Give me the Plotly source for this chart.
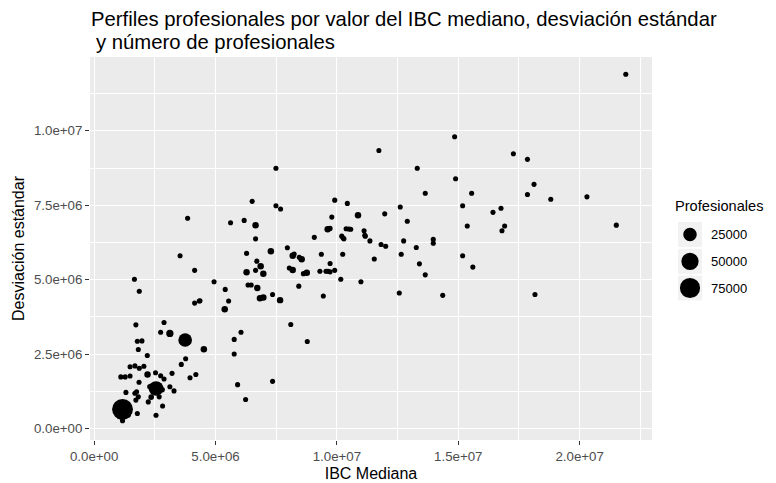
import numpy as np
import plotly.graph_objects as go

# ---- data (values in pesos) ----
ibc_mediana = [21.90, 17.27, 17.85, 18.12, 15.55, 17.85, 18.81, 20.30, 15.18, 16.76,
               16.43, 15.37, 16.91, 16.80, 21.51, 15.18, 15.60, 18.16, 14.85, 11.73,
               13.31, 14.89, 13.64, 9.91, 10.43, 12.61, 9.79, 10.87, 11.97, 12.90,
               9.72, 10.38, 10.49, 10.57, 11.12, 11.15, 11.17, 10.20, 10.26, 10.29,
               11.36, 11.82, 12.01, 12.75, 13.27, 13.97, 13.97, 10.24, 12.65, 11.54,
               13.40, 13.64, 9.72, 9.91, 9.72, 10.16, 10.99, 12.57, 14.36, 7.49,
               6.51, 7.49, 7.68, 5.62, 6.18, 6.65, 6.65, 9.62, 9.66, 9.07,
               7.96, 7.28, 6.28, 8.18, 8.24, 8.45, 8.55, 9.36, 6.70, 6.86,
               6.65, 6.28, 6.97, 8.04, 8.18, 8.62, 8.76, 9.30, 9.55, 9.63,
               6.34, 6.47, 6.72, 8.43, 4.94, 5.40, 4.36, 5.54, 6.83, 6.97,
               7.35, 7.66, 9.44, 5.38, 8.10, 6.05, 5.77, 4.52, 5.77, 8.78,
               7.35, 5.91, 6.24, 1.66, 1.86, 4.14, 4.14, 4.33, 1.72, 2.88,
               2.74, 3.12, 3.75, 1.78, 1.97, 1.82, 2.19, 3.77, 3.59, 4.19,
               3.95, 3.21, 1.48, 1.68, 1.86, 2.05, 2.20, 2.53, 2.74, 2.88,
               1.10, 1.28, 1.48, 1.85, 2.55, 2.30, 2.35, 2.80, 3.12, 3.29,
               1.31, 1.68, 1.75, 1.82, 1.72, 2.23, 2.68, 2.82, 2.55, 1.78,
               1.17, 1.17, 3.85, 3.54, 0.98, 1.40, 1.05]
desviacion = [11.90, 9.23, 9.04, 8.20, 7.90, 7.86, 7.70, 7.78, 7.48, 7.40,
              7.26, 6.80, 6.80, 6.64, 6.83, 5.80, 5.42, 4.50, 9.80, 9.34,
              8.74, 8.39, 7.90, 7.67, 7.56, 7.44, 7.10, 7.16, 7.21, 6.96,
              6.72, 6.71, 6.70, 6.69, 6.64, 6.49, 6.46, 6.46, 6.40, 6.37,
              6.30, 6.18, 6.12, 6.30, 6.08, 6.35, 6.22, 5.85, 5.85, 5.69,
              5.53, 5.16, 5.54, 5.31, 5.26, 5.01, 4.93, 4.55, 4.47, 8.74,
              7.63, 7.48, 7.37, 6.91, 6.99, 6.83, 6.37, 6.69, 6.71, 6.42,
              6.07, 5.95, 5.88, 5.80, 5.86, 5.75, 5.68, 5.85, 5.62, 5.45,
              5.31, 5.25, 5.20, 5.39, 5.32, 5.20, 5.23, 5.28, 5.28, 5.28,
              4.82, 4.82, 4.72, 4.78, 4.93, 4.67, 4.29, 4.28, 4.37, 4.40,
              4.50, 4.31, 4.45, 4.00, 3.49, 3.23, 2.99, 2.66, 2.50, 2.92,
              1.58, 1.47, 0.97, 5.01, 4.61, 5.31, 4.21, 4.28, 3.48, 3.56,
              3.23, 3.19, 2.97, 2.93, 2.94, 2.65, 2.45, 2.34, 2.15, 1.81,
              1.70, 1.85, 2.07, 2.10, 2.02, 2.09, 1.81, 1.87, 1.77, 1.66,
              1.73, 1.73, 1.76, 1.55, 1.34, 1.40, 1.05, 1.30, 1.40, 1.26,
              1.21, 1.18, 1.23, 1.06, 0.95, 0.89, 1.06, 0.75, 0.44, 0.50,
              0.64, 0.26, 7.06, 5.80, 0.72, 0.45, 0.40]
profesionales = [150, 150, 150, 150, 150, 150, 150, 150, 150, 150,
                 150, 150, 150, 150, 150, 150, 150, 150, 150, 150,
                 150, 150, 150, 150, 150, 150, 150, 1300, 150, 150,
                 150, 150, 150, 150, 150, 150, 150, 150, 150, 150,
                 150, 150, 150, 150, 150, 150, 150, 150, 150, 150,
                 150, 150, 150, 150, 150, 150, 150, 150, 150, 150,
                 150, 150, 150, 150, 150, 1300, 150, 1300, 150, 150,
                 150, 1300, 150, 1300, 150, 150, 1300, 150, 150, 1300,
                 150, 1300, 1300, 150, 1300, 150, 1300, 150, 150, 150,
                 150, 150, 1300, 150, 150, 150, 150, 150, 1300, 1300,
                 150, 1300, 150, 1300, 150, 150, 150, 1300, 150, 150,
                 150, 150, 150, 150, 150, 150, 150, 150, 150, 150,
                 150, 2500, 26000, 150, 150, 150, 150, 150, 150, 150,
                 150, 150, 150, 150, 150, 150, 1300, 150, 150, 150,
                 150, 150, 150, 150, 32000, 400, 400, 400, 150, 150,
                 150, 150, 150, 150, 150, 150, 150, 150, 150, 150,
                 82000, 150, 150, 150, 400, 400, 400]
ibc_mediana = [v * 1e6 for v in ibc_mediana]
desviacion = [v * 1e6 for v in desviacion]

x_tickvals = [0, 5e6, 10e6, 15e6, 20e6]
x_ticktext = ["0.0e+00", "5.0e+06", "1.0e+07", "1.5e+07", "2.0e+07"]
y_tickvals = [0, 2.5e6, 5e6, 7.5e6, 10e6]
y_ticktext = ["0.0e+00", "2.5e+06", "5.0e+06", "7.5e+06", "1.0e+07"]
legend_values = [25000, 50000, 75000]
legend_labels = ["25000", "50000", "75000"]
title_lines = ["Perfiles profesionales por valor del IBC mediano, desviación estándar",
               "y número de profesionales"]

SIZE_MAX = 82000


def dot_size(v):
    return 4.4 + 16.5 * np.sqrt(v / SIZE_MAX)


FONT = "Liberation Sans, Arial, sans-serif"
OFF = 8  # page body margin shifts the figure by 8px
W, H = 776, 483 - OFF
L, R, T, B = 90 - OFF, 124 + OFF, 57 - OFF, 43
PW, PH = W - L - R, H - T - B


def px(xp):
    # reference-screen pixel -> paper coordinate
    return (xp - OFF - L) / PW


def py(yp):
    return (H - B - (yp - OFF)) / PH


fig = go.Figure()
fig.add_trace(go.Scatter(
    x=ibc_mediana, y=desviacion, mode="markers",
    marker=dict(size=[dot_size(v) for v in profesionales], color="black",
                opacity=1, line=dict(width=0)),
    showlegend=False, hoverinfo="skip"))

axis_common = dict(showline=False, zeroline=False, gridcolor="white", gridwidth=1.3,
                   ticks="outside", ticklen=4, tickwidth=1, tickcolor="#333333",
                   tickfont=dict(family=FONT, size=13.3, color="#4D4D4D"),
                   tickmode="array")
fig.update_xaxes(**axis_common, range=[-0.17e6, 22.98e6],
                 tickvals=x_tickvals, ticktext=x_ticktext,
                 minor=dict(tick0=0, dtick=2.5e6, showgrid=True, gridcolor="white",
                            gridwidth=0.7, ticks=""),
                 title=dict(text="IBC Mediana", font=dict(family=FONT, size=16, color="black"),
                            standoff=4))
fig.update_yaxes(**axis_common, range=[-0.39e6, 12.48e6],
                 tickvals=y_tickvals, ticktext=y_ticktext,
                 minor=dict(tick0=0, dtick=1.25e6, showgrid=True, gridcolor="white",
                            gridwidth=0.7, ticks=""),
                 title=dict(text="Desviación estándar", font=dict(family=FONT, size=16, color="black"),
                            standoff=5))

shapes = []
annotations = []
# title (two lines)
annotations.append(dict(text=title_lines[0], x=px(89), y=py(19), xref="paper", yref="paper",
                        xanchor="left", yanchor="middle", showarrow=False,
                        font=dict(family=FONT, size=20.3, color="black")))
annotations.append(dict(text=title_lines[1], x=px(94), y=py(42), xref="paper", yref="paper",
                        xanchor="left", yanchor="middle", showarrow=False,
                        font=dict(family=FONT, size=20.3, color="black")))
# manual size legend
annotations.append(dict(text="Profesionales", x=px(673), y=py(206), xref="paper", yref="paper",
                        xanchor="left", yanchor="middle", showarrow=False,
                        font=dict(family=FONT, size=14.6, color="black")))
row_centers = [234.5, 261.3, 288.0]
row_h = 26.0
for val, lab, cy in zip(legend_values, legend_labels, row_centers):
    shapes.append(dict(type="rect", xref="paper", yref="paper",
                       x0=px(678), x1=px(702), y0=py(cy + row_h / 2 - 0.5), y1=py(cy - row_h / 2 + 0.5),
                       fillcolor="#F2F2F2", line=dict(width=0), layer="below"))
    d = dot_size(val)
    shapes.append(dict(type="circle", xref="paper", yref="paper",
                       xsizemode="pixel", ysizemode="pixel",
                       xanchor=px(690), yanchor=py(cy),
                       x0=-d / 2, x1=d / 2, y0=-d / 2, y1=d / 2,
                       fillcolor="black", line=dict(width=0)))
    annotations.append(dict(text=lab, x=px(709), y=py(cy), xref="paper", yref="paper",
                            xanchor="left", yanchor="middle", showarrow=False,
                            font=dict(family=FONT, size=13, color="black")))

fig.update_layout(
    width=W, height=H, autosize=False,
    margin=dict(l=L, r=R, t=T, b=B, autoexpand=False),
    paper_bgcolor="white", plot_bgcolor="#EBEBEB",
    shapes=shapes, annotations=annotations,
    showlegend=False,
)

fig.write_html("out.html")
